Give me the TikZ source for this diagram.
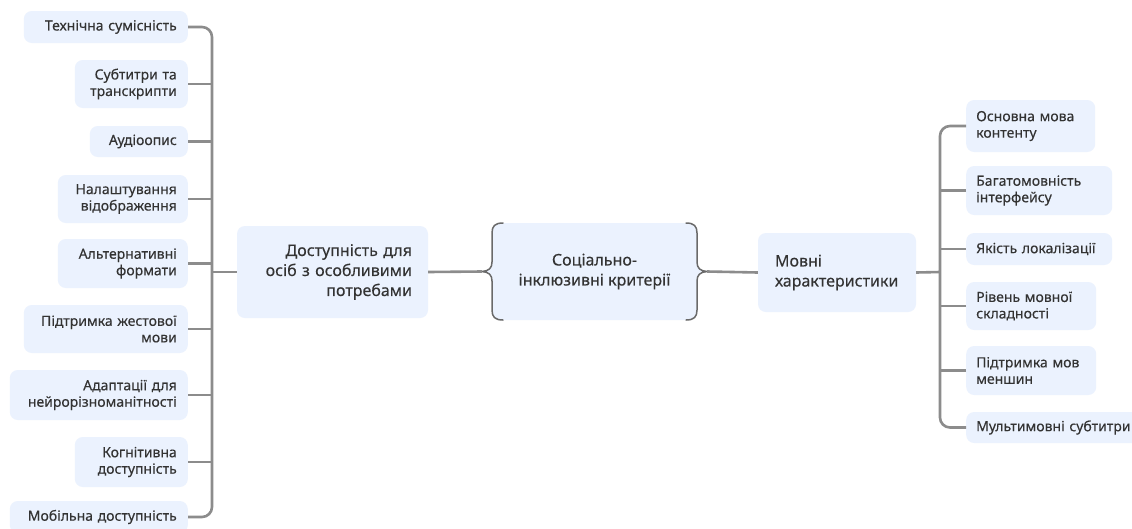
\documentclass[tikz,border=0pt]{standalone}
\usepackage{fontspec}
\setmainfont{Noto Sans}[FakeBold=0.25]
\definecolor{boxblue}{HTML}{EBF2FE}
\definecolor{txt}{HTML}{333333}
\definecolor{linegray}{HTML}{8C8C8C}
\definecolor{bracegray}{HTML}{6A6A6A}
\begin{document}
\begin{tikzpicture}[x=1pt,y=-1pt,
  box/.style={fill=boxblue, rounded corners=8pt, text=txt, inner xsep=0pt, inner ysep=0pt},
  small/.style={font=\fontsize{14}{16.5}\selectfont},
  big/.style={font=\fontsize{16}{20}\selectfont},
  lbox/.style={box, small, anchor=east, align=right},
  rbox/.style={box, small, anchor=west, align=left},
  conn/.style={draw=linegray, line width=2.6pt},
  bracestroke/.style={draw=bracegray, line width=1.5pt, line cap=round}]
\useasboundingbox (0,0) rectangle (1132,528);
\fill[white] (0,0) rectangle (1132,528);

% left leaves
\node[lbox, minimum width=164pt, minimum height=32pt, text width=142pt] (L1) at (188,27) {Технічна сумісність};
\node[lbox, minimum width=113pt, minimum height=48pt, text width=91pt] (L2) at (188,84) {Субтитри та\\транскрипти};
\node[lbox, minimum width=98pt, minimum height=31pt, text width=76pt] (L3) at (188,141.5) {Аудіоопис};
\node[lbox, minimum width=130pt, minimum height=48pt, text width=108pt] (L4) at (188,199) {Налаштування\\відображення};
\node[lbox, minimum width=130pt, minimum height=49pt, text width=108pt] (L5) at (188,263.5) {Альтернативні\\формати};
\node[lbox, minimum width=164pt, minimum height=48pt, text width=142pt] (L6) at (188,329) {Підтримка жестової\\мови};
\node[lbox, minimum width=178pt, minimum height=50pt, text width=156pt] (L7) at (188,395) {Адаптації для\\нейрорізноманітності};
\node[lbox, minimum width=113pt, minimum height=50pt, text width=91pt] (L8) at (188,462) {Когнітивна\\доступність};
\node[lbox, minimum width=178pt, minimum height=32pt, text width=156pt] (L9) at (188,517) {Мобільна доступність};

% main nodes
\node[box, big, align=right, minimum width=191pt, minimum height=92pt, text width=159pt] (A) at (332.5,272) {Доступність для\\осіб з особливими\\потребами};
\node[big, text=txt, align=center, minimum width=225pt, minimum height=97pt, inner sep=0pt] (C) at (594.5,271.5) {};
\node[box, big, align=left, minimum width=158pt, minimum height=79pt, text width=124pt] (M) at (837,272.5) {Мовні\\характеристики};

% central brace shape
\fill[boxblue] (503,223) .. controls (495,223) and (492,226) .. (492,233) -- (492,262)
  .. controls (492,268) and (489,271) .. (482,271.5) .. controls (489,272) and (492,275) .. (492,281)
  -- (492,310) .. controls (492,317) and (495,320) .. (503,320) -- (686,320)
  .. controls (694,320) and (697,317) .. (697,310) -- (697,281)
  .. controls (697,275) and (700,272) .. (707,271.5) .. controls (700,271) and (697,268) .. (697,262)
  -- (697,233) .. controls (697,226) and (694,223) .. (686,223) -- cycle;
\draw[bracestroke] (503,223) .. controls (495,223) and (492,226) .. (492,233) -- (492,262)
  .. controls (492,268) and (489,271) .. (482,271.5) .. controls (489,272) and (492,275) .. (492,281)
  -- (492,310) .. controls (492,317) and (495,320) .. (503,320);
\draw[bracestroke] (686,223) .. controls (694,223) and (697,226) .. (697,233) -- (697,262)
  .. controls (697,268) and (700,271) .. (707,271.5) .. controls (700,272) and (697,275) .. (697,281)
  -- (697,310) .. controls (697,317) and (694,320) .. (686,320);
\node[big, text=txt, align=center] (Ct) at (C.center) {Соціально-\\інклюзивні критерії};

% right leaves
\node[rbox, minimum width=129pt, minimum height=52pt, text width=109pt] (R1) at (966,126) {Основна мова\\контенту};
\node[rbox, minimum width=146pt, minimum height=49pt, text width=126pt] (R2) at (966,190.5) {Багатомовність\\інтерфейсу};
\node[rbox, minimum width=146pt, minimum height=32pt, text width=126pt] (R3) at (966,249) {Якість локалізації};
\node[rbox, minimum width=130pt, minimum height=48pt, text width=110pt] (R4) at (966,306) {Рівень мовної\\складності};
\node[rbox, minimum width=130pt, minimum height=49pt, text width=110pt] (R5) at (966,370.5) {Підтримка мов\\меншин};
\node[rbox, minimum width=182pt, minimum height=31pt, text width=162pt] (R6) at (966,427.5) {Мультимовні субтитри};

% connectors
\coordinate (LT) at (212,272);
\coordinate (RT) at (940,272);
\draw[conn, rounded corners=10pt] (L1.east) -| (LT) |- (L9.east);
\foreach \n in {L2,L3,L4,L5,L6,L7,L8} \draw[conn] (\n.east) -- (\n.east -| LT);
\draw[conn] (LT) -- (A.west);
\draw[conn] (A.east) -- (C.west);
\draw[conn] (C.east) -- (M.west);
\draw[conn] (M.east) -- (RT);
\draw[conn, rounded corners=10pt] (R1.west) -| (RT) |- (R6.west);
\foreach \n in {R2,R3,R4,R5} \draw[conn] (\n.west) -- (\n.west -| RT);
\end{tikzpicture}
\end{document}
